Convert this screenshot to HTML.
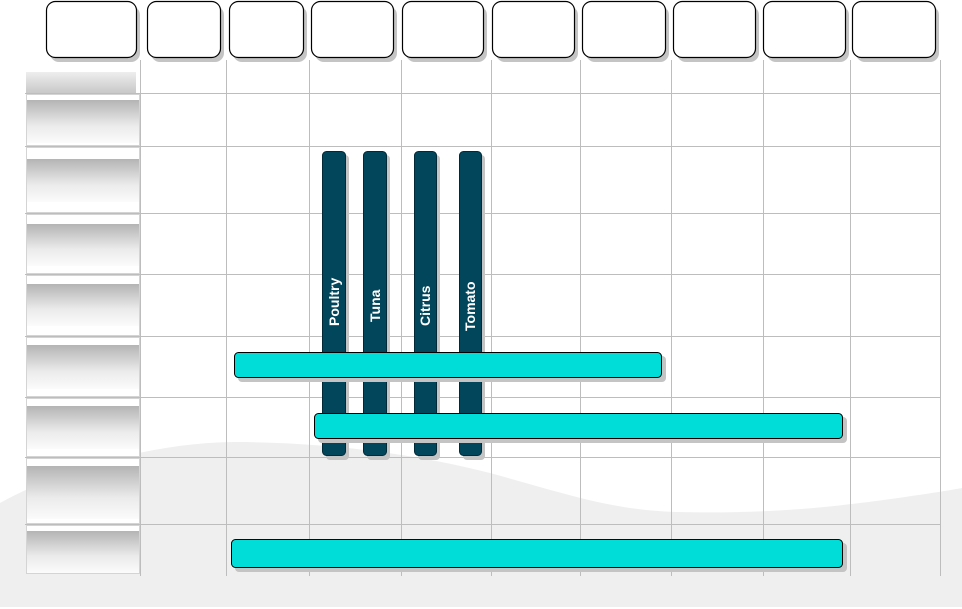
<!DOCTYPE html>
<html><head><meta charset="utf-8"><style>
html,body{margin:0;padding:0;background:#fff;width:962px;height:609px;overflow:hidden}
svg{display:block}
text{font-family:"Liberation Sans",sans-serif;font-weight:bold;font-size:14px;fill:#fff}
</style></head><body>
<svg width="962" height="609" viewBox="0 0 962 609" xmlns="http://www.w3.org/2000/svg">
<defs>
<linearGradient id="g" x1="0" y1="0" x2="0" y2="1">
<stop offset="0" stop-color="#b4b4b4"/><stop offset="0.6" stop-color="#ebebeb"/><stop offset="1" stop-color="#fbfbfb"/>
</linearGradient>
<linearGradient id="g2" x1="0" y1="0" x2="0" y2="1">
<stop offset="0" stop-color="#eeeeee"/><stop offset="1" stop-color="#c8c8c8"/>
</linearGradient>
</defs>
<path d="M0,503 C60,470 150,443 233,442 C330,442 420,455 490,473 C560,492 610,510 675,512 C760,514 820,508 860,503 C900,498 940,492 962,488 L962,607 L0,607 Z" fill="#efefef"/>
<!-- grid -->
<g stroke="#bdbdbd" stroke-width="1" fill="none">
<line x1="140.5" y1="60" x2="140.5" y2="576"/>
<line x1="226.5" y1="60" x2="226.5" y2="576"/>
<line x1="309.5" y1="60" x2="309.5" y2="576"/>
<line x1="401.5" y1="60" x2="401.5" y2="576"/>
<line x1="491.5" y1="60" x2="491.5" y2="576"/>
<line x1="580.5" y1="60" x2="580.5" y2="576"/>
<line x1="671.5" y1="60" x2="671.5" y2="576"/>
<line x1="763.5" y1="60" x2="763.5" y2="576"/>
<line x1="850.5" y1="60" x2="850.5" y2="576"/>
<line x1="940.5" y1="60" x2="940.5" y2="576"/>
<line x1="25" y1="93.5" x2="940" y2="93.5"/>
<line x1="25" y1="146.5" x2="940" y2="146.5"/>
<line x1="25" y1="213.5" x2="940" y2="213.5"/>
<line x1="25" y1="274.5" x2="940" y2="274.5"/>
<line x1="25" y1="336.5" x2="940" y2="336.5"/>
<line x1="25" y1="397.5" x2="940" y2="397.5"/>
<line x1="25" y1="457.5" x2="940" y2="457.5"/>
<line x1="25" y1="524.5" x2="940" y2="524.5"/>
</g>
<!-- left cells -->
<rect x="26" y="72" width="110" height="21" fill="url(#g2)"/>
<g stroke="#d4d4d4" stroke-width="1">
<rect x="26.5" y="94.5" width="113" height="51" fill="#fff"/>
<rect x="26.5" y="147.5" width="113" height="65" fill="#fff"/>
<rect x="26.5" y="214.5" width="113" height="59" fill="#fff"/>
<rect x="26.5" y="275.5" width="113" height="60" fill="#fff"/>
<rect x="26.5" y="337.5" width="113" height="59" fill="#fff"/>
<rect x="26.5" y="398.5" width="113" height="58" fill="#fff"/>
<rect x="26.5" y="458.5" width="113" height="65" fill="#fff"/>
<rect x="26.5" y="525.5" width="113" height="48" fill="#fff"/>
</g>
<g fill="url(#g)">
<rect x="27" y="100" width="112" height="43"/>
<rect x="27" y="159" width="112" height="43"/>
<rect x="27" y="224" width="112" height="42"/>
<rect x="27" y="284" width="112" height="42"/>
<rect x="27" y="345" width="112" height="44"/>
<rect x="27" y="406" width="112" height="43"/>
<rect x="27" y="466" width="112" height="53"/>
<rect x="27" y="531" width="112" height="42"/>
</g>
<!-- header boxes -->
<g>
<g fill="#c4c4c4">
<rect x="50" y="6" width="90" height="56" rx="9"/>
<rect x="151" y="6" width="73" height="56" rx="9"/>
<rect x="233" y="6" width="74" height="56" rx="9"/>
<rect x="315" y="6" width="82" height="56" rx="9"/>
<rect x="406" y="6" width="81" height="56" rx="9"/>
<rect x="496" y="6" width="82" height="56" rx="9"/>
<rect x="586" y="6" width="83" height="56" rx="9"/>
<rect x="677" y="6" width="82" height="56" rx="9"/>
<rect x="767" y="6" width="82" height="56" rx="9"/>
<rect x="856" y="6" width="83" height="56" rx="9"/>
</g>
<g fill="#fff" stroke="#000" stroke-width="1.2">
<rect x="46.5" y="1.5" width="90" height="56" rx="9"/>
<rect x="147.5" y="1.5" width="73" height="56" rx="9"/>
<rect x="229.5" y="1.5" width="74" height="56" rx="9"/>
<rect x="311.5" y="1.5" width="82" height="56" rx="9"/>
<rect x="402.5" y="1.5" width="81" height="56" rx="9"/>
<rect x="492.5" y="1.5" width="82" height="56" rx="9"/>
<rect x="582.5" y="1.5" width="83" height="56" rx="9"/>
<rect x="673.5" y="1.5" width="82" height="56" rx="9"/>
<rect x="763.5" y="1.5" width="82" height="56" rx="9"/>
<rect x="852.5" y="1.5" width="83" height="56" rx="9"/>
</g>
</g>
<!-- vertical bars -->
<g fill="#c4c4c4">
<rect x="326" y="155" width="23" height="305" rx="4"/>
<rect x="367" y="155" width="23" height="305" rx="4"/>
<rect x="418" y="155" width="22" height="305" rx="4"/>
<rect x="463" y="155" width="22" height="305" rx="4"/>
</g>
<g fill="#02465c" stroke="#012a38" stroke-width="1">
<rect x="322.5" y="151.5" width="23" height="304" rx="4"/>
<rect x="363.5" y="151.5" width="23" height="304" rx="4"/>
<rect x="414.5" y="151.5" width="22" height="304" rx="4"/>
<rect x="459.5" y="151.5" width="22" height="304" rx="4"/>
</g>
<text transform="translate(339,326) rotate(-90)">Poultry</text>
<text transform="translate(380,322) rotate(-90)">Tuna</text>
<text transform="translate(430,326) rotate(-90)">Citrus</text>
<text transform="translate(475,331) rotate(-90)">Tomato</text>
<!-- cyan bars -->
<g fill="#c4c4c4">
<rect x="238" y="356" width="428" height="26" rx="4"/>
<rect x="318" y="417" width="529" height="26" rx="4"/>
<rect x="235" y="543" width="612" height="29" rx="4"/>
</g>
<g fill="#00dcd8" stroke="#000" stroke-width="1">
<rect x="234.5" y="352.5" width="427" height="25" rx="4"/>
<rect x="314.5" y="413.5" width="528" height="25" rx="4"/>
<rect x="231.5" y="539.5" width="611" height="28" rx="4"/>
</g>
</svg>
</body></html>
